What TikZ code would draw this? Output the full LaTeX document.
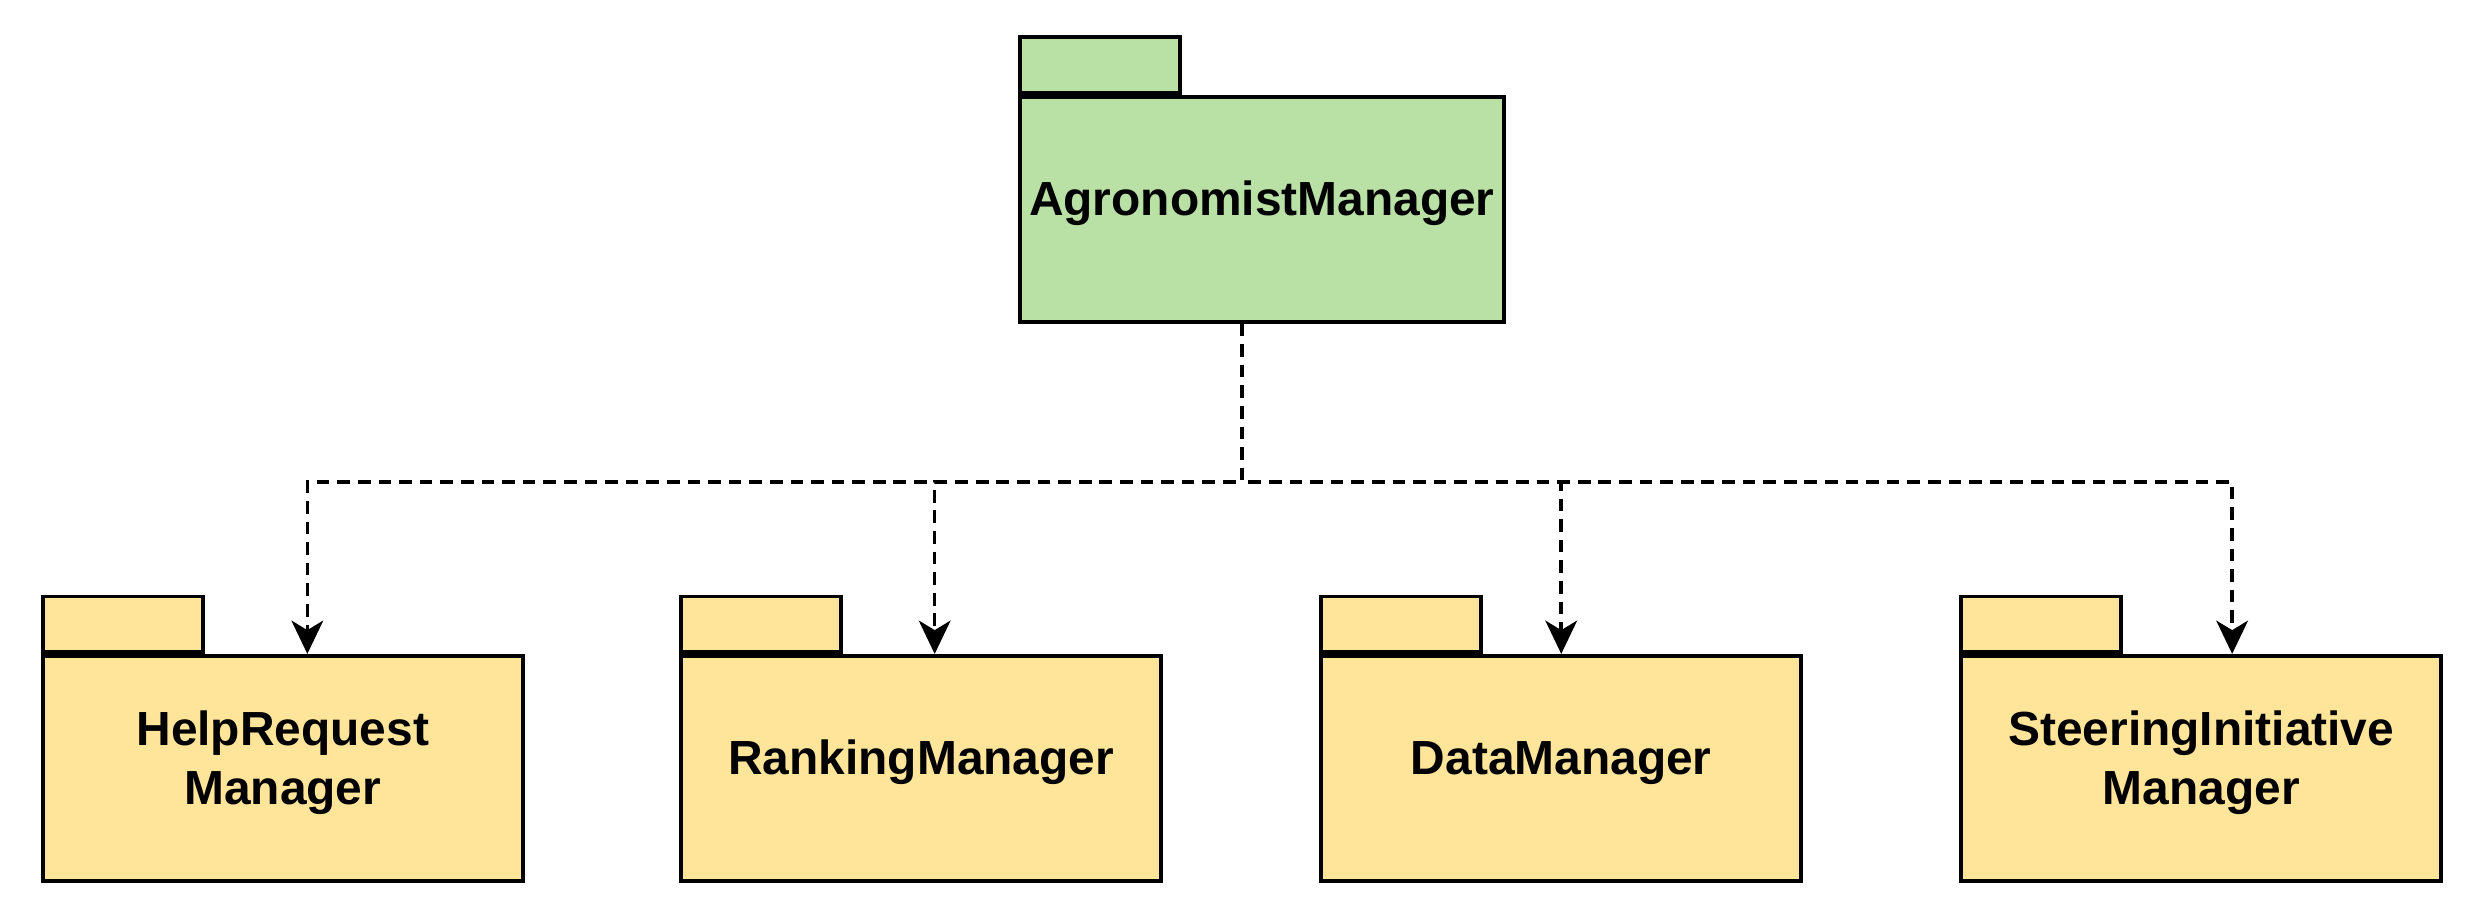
\documentclass[tikz,border=0pt]{standalone}
\usepackage{fontspec}
\setmainfont{Liberation Sans}
\usepackage{xcolor}
\usepackage{tikz}
\usetikzlibrary{arrows.meta,positioning,calc}

\definecolor{agmgreen}{HTML}{B9E0A5}
\definecolor{pkgyellow}{HTML}{FFE599}

\tikzset{
    pkg/.style={draw, line width=1.4pt, fill=#1, minimum width=6.06cm, minimum height=2.84cm,
        align=center, text depth=0.27cm, font=\fontsize{17.2}{21.5}\selectfont\bfseries},
    pkgtab/.style={draw, line width=1.4pt, fill=#1, minimum width=2.02cm, minimum height=0.7cm,
        inner sep=0pt, anchor=south west},
    dep/.style={line width=1.3pt, dash pattern=on 0.16cm off 0.1cm,
        -{Stealth[length=0.42cm, width=0.4cm, inset=0.12cm]}}
}

\begin{document}
\begin{tikzpicture}
\useasboundingbox (0,0) rectangle (31.36,11.66);
% Top package
\node[pkg=agmgreen] (agm) at (15.93,9.02) {AgronomistManager};
\node[pkgtab=agmgreen] (agmtab) at (agm.north west) {};
% Lower packages
\foreach \n/\x/\t in {hrm/3.57/{HelpRequest\\Manager}, rkm/11.63/{RankingManager},
                      dtm/19.71/{DataManager}, sim/27.79/{SteeringInitiative\\Manager}} {
    \node[pkg=pkgyellow] (\n) at (\x,1.96) {\t};
    \node[pkgtab=pkgyellow] (\n tab) at (\n.north west) {};
}
% Dependencies
\foreach \n/\dx in {hrm/0.31, rkm/0.17, dtm/0, sim/0.39} {
    \draw[dep] ([xshift=-0.25cm]agm.south) -- ++(0,-2) -| ([xshift=\dx cm]\n.north);
}
\end{tikzpicture}
\end{document}
